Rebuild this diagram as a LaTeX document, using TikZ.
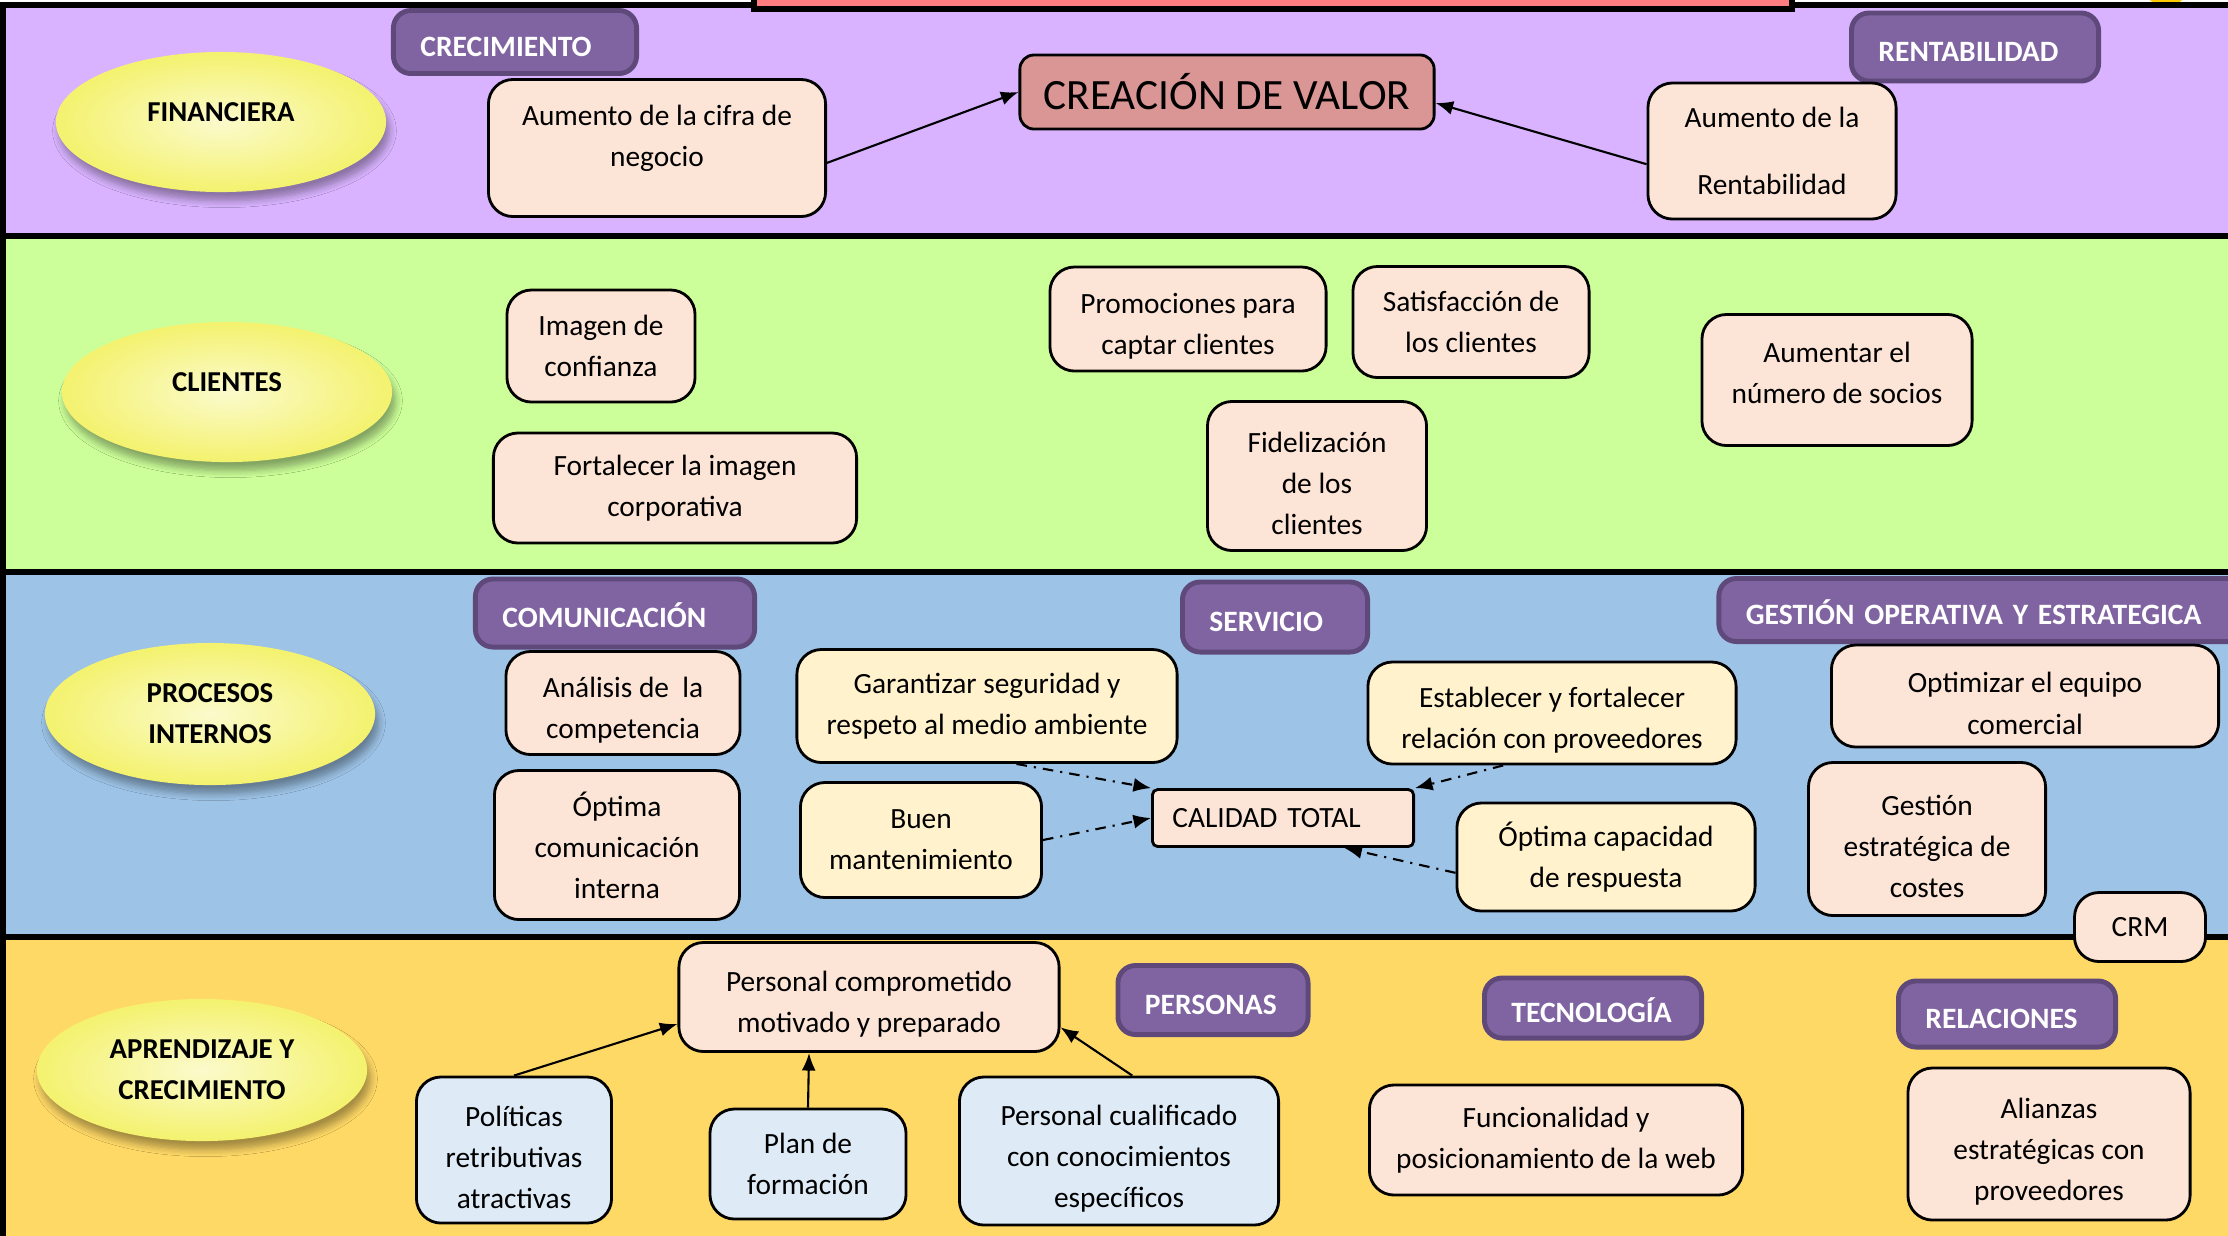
\documentclass[tikz,border=0pt]{standalone}
\usepackage{fontspec}
\setmainfont{Carlito}
\usepackage{tikz}
\usetikzlibrary{positioning, arrows.meta, shapes.geometric, shadows.blur}
\definecolor{finviolet}{RGB}{217, 179, 255}
\definecolor{cligreen}{RGB}{204, 255, 153}
\definecolor{procblue}{RGB}{157, 195, 230}
\definecolor{learnyellow}{RGB}{255, 217, 102}
\definecolor{tagpurple}{RGB}{128, 100, 162}
\definecolor{tagedge}{RGB}{95, 73, 122}
\definecolor{peach}{RGB}{252, 228, 214}
\definecolor{cream}{RGB}{255, 242, 204}
\definecolor{paleblue}{RGB}{222, 235, 247}
\definecolor{valuerose}{RGB}{218, 150, 148}
\definecolor{topred}{RGB}{255, 124, 128}
\definecolor{ovalyellow}{RGB}{244, 242, 110}
\definecolor{sungold}{RGB}{255, 200, 0}

\begin{document}
\begin{tikzpicture}[x=0.01cm, y=-0.01cm, font=\fontsize{8.35}{11.7}\selectfont,
    band/.style={draw=black, line width=1.6pt},
    persp/.style={ellipse, inner sep=0pt, align=center,
                  font=\fontsize{8.2}{11.7}\selectfont\bfseries,
                  inner color=ovalyellow!35, outer color=ovalyellow,
                  blur shadow={shadow xshift=1pt, shadow yshift=-2.5pt,
                               shadow blur steps=6, shadow opacity=35}},
    tag/.style={draw=tagedge, line width=1.4pt, fill=tagpurple,
                rounded corners=5pt, text=white, align=left,
                inner xsep=0.27cm, inner ysep=0pt,
                text height=9pt, text depth=0.6pt,
                font=\fontsize{8.4}{11.7}\selectfont\bfseries},
    goal/.style={draw=black, thick, rounded corners=7pt, fill=peach,
                 align=center, inner sep=0pt},
    serv/.style={goal, fill=cream},
    staff/.style={goal, fill=paleblue},
    link/.style={semithick, -{Latex[length=5pt, width=4pt]}},
    qlink/.style={link, dash dot}]
  \useasboundingbox (0,0) rectangle (2228,1235);
  % perspective bands
  \fill[sungold] (2166,-19) circle[radius=25];
  \draw[band, fill=finviolet] (3,5) rectangle (2240,236);
  \draw[band, fill=topred] (754,-30) rectangle (1792,9);
  \draw[band, fill=cligreen] (3,236) rectangle (2240,572);
  \draw[band, fill=procblue] (3,572) rectangle (2240,937);
  \draw[band, fill=learnyellow] (3,937) rectangle (2240,1250);

  \node[persp, minimum width=3.3cm, minimum height=1.4cm] (fin) at (221,122) {\raisebox{5.7pt}{FINANCIERA}};
  \node[persp, minimum width=3.3cm, minimum height=1.4cm] (cli) at (227,392) {\raisebox{5.7pt}{CLIENTES}};
  \node[persp, minimum width=3.3cm, minimum height=1.42cm] (proc) at (210,714) {PROCESOS\\INTERNOS};
  \node[persp, minimum width=3.3cm, minimum height=1.42cm] (apr) at (202,1070) {APRENDIZAJE Y\\CRECIMIENTO};

  % group tags
  \node[tag, text width=1.89cm, minimum height=0.63cm] (crec) at (515,42) {CRECIMIENTO};
  \node[tag, text width=1.93cm, minimum height=0.68cm] (rentab) at (1975,47) {RENTABILIDAD};
  \node[tag, text width=2.25cm, minimum height=0.68cm] (comun) at (615,613) {COMUNICACIÓN};
  \node[tag, text width=1.31cm, minimum height=0.70cm] (servicio) at (1275,617) {SERVICIO};
  \node[tag, text width=4.76cm, minimum height=0.63cm] (gestion) at (1984,610) {GESTIÓN OPERATIVA Y ESTRATEGICA};
  \node[tag, text width=1.36cm, minimum height=0.69cm] (personas) at (1213,1000) {PERSONAS};
  \node[tag, text width=1.63cm, minimum height=0.60cm] (tecno) at (1593,1008) {TECNOLOGÍA};
  \node[tag, text width=1.63cm, minimum height=0.66cm] (relac) at (2007,1014) {RELACIONES};

  % financiera
  \node[goal, minimum width=3.37cm, minimum height=1.37cm] (cifra) at (657,148)
        {Aumento de la cifra de\\negocio\rule[-7pt]{0pt}{0pt}};
  \node[goal, fill=valuerose, rounded corners=4pt, minimum width=4.14cm, minimum height=0.74cm,
        font=\fontsize{12.3}{14}\selectfont] (valor) at (1227,92) {CREACIÓN DE VALOR};
  \node[goal, minimum width=2.48cm, minimum height=1.36cm] (rent) at (1772,151)
        {Aumento de la\\[7.5pt]Rentabilidad};
  \draw[link] (cifra.-5) -- (valor.west);
  \draw[link] (rent.186) -- (valor.-3);

  % clientes
  \node[goal, minimum width=1.88cm, minimum height=1.12cm] (imagen) at (601,346) {Imagen de\\confianza};
  \node[goal, minimum width=3.63cm, minimum height=1.10cm] (fortal) at (675,488) {Fortalecer la imagen\\corporativa};
  \node[goal, minimum width=2.76cm, minimum height=1.04cm] (promo) at (1188,319)
        {\rule{0pt}{10pt}Promociones para\\captar clientes};
  \node[goal, minimum width=2.36cm, minimum height=1.11cm] (satis) at (1471,322) {Satisfacción de\\los clientes};
  \node[goal, minimum width=2.19cm, minimum height=1.49cm] (fideli) at (1317,476)
        {\rule{0pt}{10pt}Fidelización\\de los\\clientes};
  \node[goal, minimum width=2.70cm, minimum height=1.31cm] (socios) at (1837,380)
        {Aumentar el\\número de socios\rule[-4pt]{0pt}{0pt}};

  % procesos internos
  \node[goal, minimum width=2.34cm, minimum height=1.03cm] (analisis) at (623,703)
        {\rule{0pt}{10pt}Análisis de~ la\\competencia};
  \node[goal, minimum width=2.45cm, minimum height=1.49cm] (optcom) at (617,845) {Óptima\\comunicación\\interna};
  \node[serv, minimum width=3.80cm, minimum height=1.13cm] (garant) at (987,706) {Garantizar seguridad y\\respeto al medio ambiente};
  \node[serv, minimum width=2.41cm, minimum height=1.15cm] (buen) at (921,840) {Buen\\mantenimiento};
  \node[goal, rounded corners=1.5pt, minimum width=2.61cm, minimum height=0.57cm,
        text width=2.21cm, align=left] (calidad) at (1283,818) {CALIDAD TOTAL};
  \node[serv, minimum width=3.68cm, minimum height=1.02cm] (establ) at (1552,713)
        {\rule{0pt}{10pt}Establecer y fortalecer\\relación con proveedores};
  \node[serv, minimum width=2.98cm, minimum height=1.08cm] (optcap) at (1606,857) {Óptima capacidad\\de respuesta};
  \node[goal, minimum width=3.87cm, minimum height=1.02cm] (equipo) at (2025,696)
        {\rule{0pt}{10pt}Optimizar el equipo\\comercial};
  \node[goal, minimum width=2.37cm, minimum height=1.53cm] (costes) at (1927,839)
        {\rule{0pt}{10pt}Gestión\\estratégica de\\costes};
  \node[goal, minimum width=1.31cm, minimum height=0.69cm] (crm) at (2140,927) {CRM};
  \draw[qlink] (garant.-63) -- (calidad.north west);
  \draw[qlink] (buen.east) -- (calidad.west);
  \draw[qlink] (establ.-133) -- (calidad.north east);
  \draw[qlink] (optcap.186) -- (calidad.-26);

  % aprendizaje y crecimiento
  \node[goal, minimum width=3.80cm, minimum height=1.09cm] (compro) at (869,997)
        {\rule{0pt}{10pt}Personal comprometido\\motivado y preparado};
  \node[staff, minimum width=1.95cm, minimum height=1.46cm] (politicas) at (514,1150)
        {\rule{0pt}{10pt}Políticas\\retributivas\\atractivas};
  \node[staff, minimum width=1.96cm, minimum height=1.10cm] (plan) at (808,1164) {Plan de\\formación};
  \node[staff, minimum width=3.19cm, minimum height=1.48cm] (cualif) at (1119,1151)
        {\rule{0pt}{10pt}Personal cualificado\\con conocimientos\\específicos};
  \node[goal, minimum width=3.73cm, minimum height=1.10cm] (funcion) at (1556,1140) {Funcionalidad y\\posicionamiento de la web};
  \node[goal, minimum width=2.82cm, minimum height=1.52cm] (alianzas) at (2049,1144)
        {\rule{0pt}{10pt}Alianzas\\estratégicas con\\proveedores};
  \draw[link] (politicas.north) -- (compro.188);
  \draw[link] (plan.north) -- (compro.-137);
  \draw[link] (cualif.80) -- (compro.-9);
\end{tikzpicture}
\end{document}
